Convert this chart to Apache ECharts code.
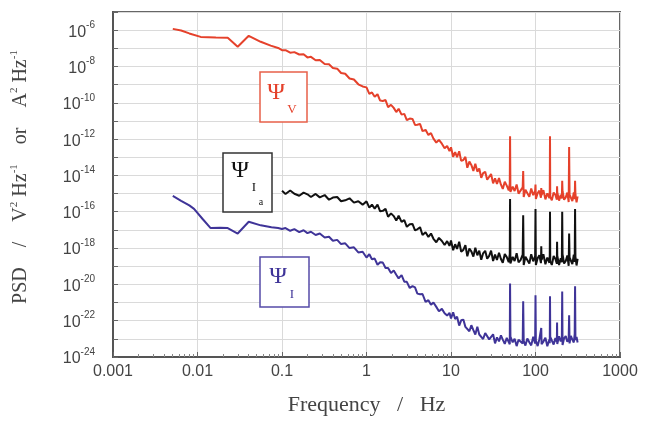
<!DOCTYPE html>
<html>
<head>
<meta charset="utf-8">
<script src="https://cdn.jsdelivr.net/npm/echarts@6/dist/echarts.min.js"></script>
<style>
  html, body { margin: 0; background: #fff; }
  #chart { width: 646px; height: 421px; }
</style>
</head>
<body>
<div id="chart"></div>
<script>
// x tick labels, decades 0.001 .. 1000
const xTicks = ['0.001', '0.01', '0.1', '1', '10', '100', '1000']

// low-frequency part of the spectra, [frequency / Hz, log10 PSD]
const redLow = [
  [0.0051, -5.93], [0.0064, -6.02], [0.008, -6.18], [0.0109, -6.37], [0.0165, -6.40],
  [0.0228, -6.42], [0.0299, -6.91], [0.0404, -6.31], [0.056, -6.64], [0.0735, -6.85], [0.09, -6.98]
]
const blueLow = [
  [0.0051, -15.13], [0.0064, -15.40], [0.008, -15.65], [0.0091, -15.84], [0.0115, -16.40],
  [0.0143, -16.90], [0.0185, -16.88], [0.0228, -16.90], [0.0299, -17.20], [0.0404, -16.55],
  [0.056, -16.75], [0.075, -16.85], [0.09, -16.90]
]

// shared frequencies from 0.1 Hz up (Hz)
const freqHi = [
  0.10, 0.11, 0.125, 0.14, 0.16, 0.18, 0.20, 0.22, 0.25, 0.28,
  0.32, 0.36, 0.40, 0.45, 0.50, 0.56, 0.63, 0.71, 0.80, 0.90,
  1.0, 1.08, 1.16, 1.25, 1.35, 1.45, 1.56, 1.68, 1.8, 1.95,
  2.1, 2.25, 2.4, 2.6, 2.8, 3.0, 3.25, 3.5, 3.75, 4.0,
  4.3, 4.6, 5.0, 5.4, 5.8, 6.2, 6.7, 7.2, 7.8, 8.4,
  9.0, 9.6, 10, 10.6, 11.2, 11.8, 12.5, 13.2, 14, 14.8,
  15.6, 16.5, 17.4, 18.4, 19.4, 20.5, 21.6, 22.8, 24, 25.4,
  26.8, 28.3, 29.8, 31.5, 33.2, 35, 37, 39, 41, 43.3,
  45.7, 48.2, 49.6, 50, 50.5, 53.7, 56.6, 59.8, 63, 66.5,
  70.5, 71.5, 72.5, 76, 80, 84.5, 89, 94, 99, 100,
  101, 106, 111, 116, 117, 118, 124, 131, 138, 146,
  147.5, 148.5, 149.5, 156, 164, 172, 179, 180, 181, 190,
  199, 205, 207, 209, 218, 228, 238, 247, 250, 253,
  262, 273, 284, 291, 294, 297, 306, 315
]

// log10 PSD at freqHi
const psiV = [
  -7.10, -7.10, -7.24, -7.21, -7.34, -7.33, -7.50, -7.47, -7.66, -7.64,
  -7.86, -7.88, -8.08, -8.12, -8.36, -8.40, -8.66, -8.72, -8.98, -9.10,
  -9.15, -9.51, -9.43, -9.67, -9.53, -9.88, -9.90, -9.85, -10.24, -10.11,
  -10.28, -10.51, -10.33, -10.65, -10.61, -10.95, -10.87, -10.89, -11.22, -11.21,
  -11.16, -11.56, -11.49, -11.77, -11.67, -11.97, -12.19, -12.04, -12.25, -12.50,
  -12.38, -12.66, -12.45, -12.97, -12.72, -12.99, -12.67, -13.20, -13.15, -12.98,
  -13.58, -13.24, -13.42, -13.75, -13.36, -13.79, -13.62, -14.13, -13.87, -13.80,
  -14.24, -14.14, -13.92, -14.44, -14.16, -14.47, -14.15, -14.51, -14.74, -14.35,
  -14.56, -14.83, -14.45, -11.84, -14.91, -14.62, -14.86, -14.50, -15.00, -14.90,
  -14.66, -13.76, -15.19, -14.79, -14.90, -15.17, -14.72, -15.09, -14.85, -14.50,
  -15.30, -14.98, -14.84, -15.23, -14.70, -15.08, -14.81, -15.32, -14.99, -15.25,
  -14.88, -11.84, -15.18, -15.37, -14.94, -15.08, -15.33, -14.60, -14.93, -15.39,
  -15.06, -15.27, -14.30, -14.87, -15.34, -15.21, -14.95, -15.47, -12.44, -15.06,
  -15.16, -15.41, -14.94, -15.30, -14.30, -15.05, -15.48, -15.15
]
const psiIa = [
  -14.85, -15.02, -14.83, -15.01, -15.12, -14.95, -15.04, -15.19, -15.02, -15.21,
  -15.08, -15.34, -15.22, -15.19, -15.42, -15.37, -15.26, -15.50, -15.42, -15.61,
  -15.43, -15.77, -15.61, -15.83, -15.61, -15.98, -15.95, -15.84, -16.28, -16.09,
  -16.24, -16.49, -16.22, -16.56, -16.46, -16.83, -16.69, -16.67, -17.02, -16.97,
  -16.85, -17.28, -17.13, -17.39, -17.20, -17.49, -17.68, -17.44, -17.61, -17.83,
  -17.62, -17.88, -17.58, -18.12, -17.79, -18.05, -17.65, -18.20, -18.10, -17.84,
  -18.45, -18.03, -18.18, -18.47, -17.98, -18.40, -18.14, -18.64, -18.29, -18.15,
  -18.59, -18.43, -18.14, -18.71, -18.36, -18.66, -18.26, -18.60, -18.81, -18.33,
  -18.50, -18.77, -18.34, -15.30, -18.85, -18.49, -18.71, -18.28, -18.79, -18.66,
  -18.36, -16.20, -18.93, -18.48, -18.59, -18.85, -18.34, -18.73, -18.45, -15.85,
  -18.93, -18.56, -18.40, -18.83, -17.90, -18.65, -18.34, -18.89, -18.52, -18.81,
  -18.40, -16.00, -18.73, -18.93, -18.44, -18.60, -18.86, -17.65, -18.42, -18.93,
  -18.56, -18.78, -16.00, -18.34, -18.85, -18.71, -18.41, -18.98, -17.20, -18.52,
  -18.63, -18.89, -18.37, -18.76, -15.85, -18.48, -18.96, -18.59
]
const psiI = [
  -16.95, -16.90, -17.05, -16.96, -17.12, -17.02, -17.18, -17.10, -17.28, -17.20,
  -17.42, -17.38, -17.60, -17.55, -17.78, -17.74, -18.00, -17.96, -18.24, -18.20,
  -18.52, -18.34, -18.62, -18.58, -18.92, -18.78, -18.80, -19.10, -19.10, -19.38,
  -19.23, -19.47, -19.67, -19.49, -19.85, -19.86, -20.20, -20.10, -20.17, -20.51,
  -20.54, -20.53, -20.96, -20.87, -21.12, -21.00, -21.24, -21.48, -21.35, -21.59,
  -21.72, -21.57, -21.88, -21.54, -21.91, -21.78, -22.27, -21.98, -21.94, -22.34,
  -22.25, -22.58, -22.25, -22.52, -22.76, -22.34, -22.76, -22.65, -23.01, -22.68,
  -22.63, -23.03, -22.92, -22.75, -23.25, -22.92, -23.14, -22.81, -23.04, -23.28,
  -22.95, -23.18, -23.30, -19.95, -22.88, -23.19, -22.99, -23.40, -23.05, -22.94,
  -23.26, -20.93, -23.11, -23.37, -22.98, -23.19, -23.36, -22.89, -23.25, -20.60,
  -23.09, -23.40, -23.03, -22.93, -22.40, -23.29, -23.15, -22.94, -23.41, -23.04,
  -23.24, -20.66, -22.89, -23.09, -23.31, -22.96, -23.17, -22.10, -23.28, -22.86,
  -23.14, -22.94, -20.40, -23.34, -22.97, -22.85, -23.16, -23.00, -21.70, -23.25,
  -22.84, -23.04, -23.20, -22.72, -20.10, -23.07, -22.90, -23.20
]

const sans = '"Liberation Sans", Arial, sans-serif'
const serif = '"Liberation Serif", "Times New Roman", serif'
const RED = '#e5412b'
const BLACK = '#111111'
const BLUE = '#3f3498'

function pairs(low, vals) {
  return low.concat(freqHi.map((f, i) => [f, vals[i]]))
}

const chart = echarts.init(document.getElementById('chart'))

const option = {
  animation: false,
  backgroundColor: '#fff',
  grid: {
    left: 113, right: 26, top: 12, bottom: 62,
    containLabel: false,
    show: true, borderColor: '#666', borderWidth: 2
  },
  xAxis: {
    type: 'log',
    logBase: 10,
    min: 0.001,
    max: 1000,
    name: 'Frequency   /   Hz',
    nameLocation: 'middle',
    nameGap: 37,
    nameTextStyle: { fontFamily: serif, fontSize: 22, color: '#444' },
    axisLine: { lineStyle: { color: '#555', width: 2 } },
    axisTick: { inside: true, length: 5, lineStyle: { color: '#666' } },
    minorTick: { show: true, splitNumber: 9, length: 3, lineStyle: { color: '#888' } },
    splitLine: { show: true, lineStyle: { color: '#dadada', width: 1 } },
    axisLabel: {
      margin: 7,
      fontFamily: sans,
      fontSize: 16,
      color: '#444',
      formatter: (v) => xTicks[Math.round(Math.log10(v)) + 3]
    }
  },
  yAxis: {
    type: 'value',
    min: -24,
    max: -5,
    interval: 1,
    name: '{p|   PSD    /    V}{s|2}{p| Hz}{s|-1}{p|    or    A}{s|2}{p| Hz}{s|-1}',
    nameLocation: 'middle',
    nameRotate: 90,
    nameGap: 80,
    nameTextStyle: {
      fontFamily: serif, fontSize: 20, color: '#444',
      rich: {
        p: { fontFamily: serif, fontSize: 20, color: '#444', lineHeight: 24 },
        s: { fontFamily: serif, fontSize: 11, color: '#444', verticalAlign: 'top', lineHeight: 12 }
      }
    },
    axisLine: { lineStyle: { color: '#555', width: 2 } },
    axisTick: { inside: true, length: 5, lineStyle: { color: '#666' } },
    splitLine: { show: true, lineStyle: { color: '#dadada', width: 1 } },
    axisLabel: {
      margin: 18,
      formatter: (v) => (v % 2 === 0 ? '{b|10}{e|' + v + '}' : ''),
      rich: {
        b: { fontFamily: sans, fontSize: 16, color: '#444', lineHeight: 20, verticalAlign: 'bottom' },
        e: { fontFamily: sans, fontSize: 10, color: '#444', lineHeight: 12, verticalAlign: 'top' }
      }
    }
  },
  series: [
    {
      name: 'Psi V', type: 'line', data: pairs(redLow, psiV),
      showSymbol: false, symbol: 'none', lineStyle: { color: RED, width: 2 }
    },
    {
      name: 'Psi Ia', type: 'line', data: pairs([], psiIa),
      showSymbol: false, symbol: 'none', lineStyle: { color: BLACK, width: 2 }
    },
    {
      name: 'Psi I', type: 'line', data: pairs(blueLow, psiI),
      showSymbol: false, symbol: 'none', lineStyle: { color: BLUE, width: 2 }
    }
  ],
  graphic: [
    { type: 'rect', z: 100, shape: { x: 260, y: 72, width: 47, height: 50 }, style: { fill: '#fff', stroke: '#e8604a', lineWidth: 1.5 } },
    { type: 'text', z: 101, x: 276, y: 93, style: { text: 'Ψ', font: '24px ' + serif, fill: RED, align: 'center', verticalAlign: 'middle' } },
    { type: 'text', z: 101, x: 292, y: 110, style: { text: 'V', font: '13px ' + serif, fill: RED, align: 'center', verticalAlign: 'middle' } },

    { type: 'rect', z: 100, shape: { x: 223, y: 153, width: 49, height: 59 }, style: { fill: '#fff', stroke: '#333', lineWidth: 1.5 } },
    { type: 'text', z: 101, x: 240, y: 171, style: { text: 'Ψ', font: '24px ' + serif, fill: BLACK, align: 'center', verticalAlign: 'middle' } },
    { type: 'text', z: 101, x: 254, y: 188, style: { text: 'I', font: '13px ' + serif, fill: BLACK, align: 'center', verticalAlign: 'middle' } },
    { type: 'text', z: 101, x: 261, y: 202, style: { text: 'a', font: '10px ' + serif, fill: BLACK, align: 'center', verticalAlign: 'middle' } },

    { type: 'rect', z: 100, shape: { x: 260, y: 257, width: 49, height: 50 }, style: { fill: '#fff', stroke: '#554ba8', lineWidth: 1.5 } },
    { type: 'text', z: 101, x: 278, y: 277, style: { text: 'Ψ', font: '24px ' + serif, fill: BLUE, align: 'center', verticalAlign: 'middle' } },
    { type: 'text', z: 101, x: 292, y: 295, style: { text: 'I', font: '13px ' + serif, fill: BLUE, align: 'center', verticalAlign: 'middle' } }
  ]
}

option && chart.setOption(option)
</script>
</body>
</html>
